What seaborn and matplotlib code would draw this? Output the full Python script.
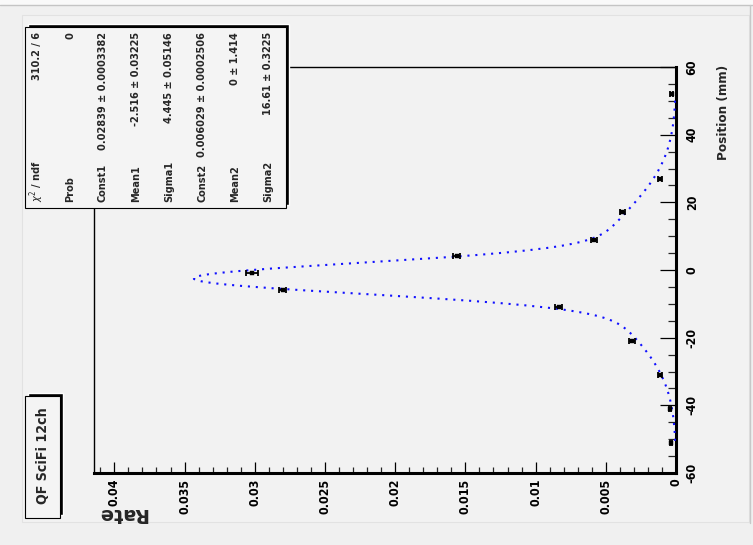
import numpy as np
import pandas as pd
import matplotlib
matplotlib.use("Agg")
import matplotlib.pyplot as plt
import seaborn as sns
from matplotlib.patches import Rectangle
from matplotlib.lines import Line2D
from matplotlib.ticker import MultipleLocator
from matplotlib import font_manager as fm

# ---------------- data ----------------
position = [-51, -41, -31, -21, -11, -6, -1, 4, 9, 17, 27, 52]
rate = [0.00036, 0.00043, 0.00112, 0.00311, 0.00836, 0.0280, 0.0302,
        0.01562, 0.00584, 0.00382, 0.00114, 0.0003]
rate_err = [0.0001, 0.0001, 0.00015, 0.00022, 0.00025, 0.00025, 0.00041,
            0.00024, 0.00024, 0.00018, 0.00012, 0.0001]

# fit parameters shown in the stats box (double gaussian)
const1, mean1, sigma1 = 0.02839, -2.516, 4.445
const2, mean2, sigma2 = 0.006029, 0.0, 16.61
fit_lo, fit_hi = -50.5, 51.0

rate_ticks = [0, 0.005, 0.01, 0.015, 0.02, 0.025, 0.03, 0.035, 0.04]
rate_labels = ["0", "0.005", "0.01", "0.015", "0.02", "0.025", "0.03", "0.035", "0.04"]
pos_ticks = [-60, -40, -20, 0, 20, 40, 60]
pos_labels = ["-60", "-40", "-20", "0", "20", "40", "60"]

title = "QF SciFi 12ch"
xlabel = "Position (mm)"
ylabel = "Rate"
stat_names = [r"$\chi^{2}$ / ndf", "Prob", "Const1", "Mean1", "Sigma1", "Const2", "Mean2", "Sigma2"]
stat_values = ["310.2 / 6", "0", "0.02839 ± 0.0003382", "-2.516 ± 0.03225",
               "4.445 ± 0.05146", "0.006029 ± 0.0002506", "0 ± 1.414", "16.61 ± 0.3225"]

# ---------------- fonts ----------------
sns.set_style("white")
names = {f.name for f in fm.fontManager.ttflist}
cond = any(f.name == "DejaVu Sans" and f.stretch == "condensed" for f in fm.fontManager.ttflist)
if "Liberation Sans Narrow" in names:
    FAM, STRETCH = "Liberation Sans Narrow", "normal"
elif cond:
    FAM, STRETCH = "DejaVu Sans", "condensed"
else:
    FAM, STRETCH = "Liberation Sans", "normal"
plt.rcParams["font.family"] = [FAM, "DejaVu Sans"]
plt.rcParams["font.stretch"] = STRETCH
plt.rcParams["mathtext.fontset"] = "dejavusans"

W, H = 753, 545
fig = plt.figure(figsize=(W / 100, H / 100), dpi=100)
fig.patch.set_facecolor("#f0f0f0")


def fx(x):
    return x / W


def fy(y):
    return 1 - y / H


# canvas decoration (behind the axes)
fig.patches.append(Rectangle((0, fy(5)), 1, 5 / H, transform=fig.transFigure,
                             facecolor="#f9f9f9", edgecolor="none", zorder=-3))
fig.lines.append(Line2D([0, 1], [fy(5), fy(5)], transform=fig.transFigure,
                        color="#c4c4c4", lw=1.0, zorder=-2))
fig.patches.append(Rectangle((fx(22), fy(522)), fx(749) - fx(22), (522 - 15) / H,
                             transform=fig.transFigure, facecolor="#f2f2f2",
                             edgecolor="#e2e2e2", lw=0.8, zorder=-2))
fig.lines.append(Line2D([fx(749.5), fx(749.5)], [fy(5), fy(523)], transform=fig.transFigure,
                        color="#c8c8c8", lw=1.0, zorder=-1))

ax = fig.add_axes([fx(94), fy(473), fx(676) - fx(94), (473 - 67) / H])
ax.set_facecolor("#f2f2f2")

# fit curve
curve_pos = np.linspace(fit_lo, fit_hi, 300)
curve_rate = (const1 * np.exp(-0.5 * ((curve_pos - mean1) / sigma1) ** 2)
              + const2 * np.exp(-0.5 * ((curve_pos - mean2) / sigma2) ** 2))
curve = pd.DataFrame({"rate": curve_rate, "position": curve_pos})
sns.lineplot(data=curve, x="rate", y="position", orient="y", sort=False, estimator=None,
             color="#1010ff", lw=1.5, linestyle=(0, (1.0, 2.8)), ax=ax, zorder=3)

pts = pd.DataFrame({"rate": rate, "position": position, "err": rate_err})
ax.errorbar(pts["rate"], pts["position"], xerr=pts["err"], fmt="none", ecolor="black",
            elinewidth=1.3, capsize=2.2, capthick=1.3, zorder=4)
sns.scatterplot(data=pts, x="rate", y="position", marker="s", s=9, color="black",
                edgecolor="black", linewidth=0.3, ax=ax, zorder=5)

ax.set_xlim(0.04145, 0)
ax.set_ylim(-60, 60)
ax.set_xlabel("")
ax.set_ylabel("")

for s in ["bottom", "right"]:
    ax.spines[s].set_linewidth(2.2)
for s in ["top", "left"]:
    ax.spines[s].set_linewidth(1.0)
for s in ax.spines.values():
    s.set_color("black")
    s.set_visible(True)

ax.set_xticks(rate_ticks, rate_labels)
ax.xaxis.set_minor_locator(MultipleLocator(0.001))
ax.set_yticks(pos_ticks, pos_labels)
ax.yaxis.set_minor_locator(MultipleLocator(5))
ax.yaxis.tick_right()
ax.tick_params(axis="x", which="major", direction="in", length=8, width=0.9, pad=4,
               colors="black", bottom=True, top=False)
ax.tick_params(axis="x", which="minor", direction="in", length=4, width=0.9, bottom=True, top=False)
ax.tick_params(axis="y", which="major", direction="in", length=11.5, width=0.9, pad=7,
               colors="black", right=True, left=False)
ax.tick_params(axis="y", which="minor", direction="in", length=5.5, width=0.9, right=True, left=False)

TICKFS = 13
for lab in ax.get_xticklabels():
    lab.set_rotation(90)
    lab.set_ha("center")
    lab.set_va("top")
    lab.set_fontweight("bold")
    lab.set_fontsize(TICKFS)
for lab in ax.get_yticklabels():
    lab.set_rotation(90)
    lab.set_ha("left")
    lab.set_va("center")
    lab.set_fontweight("bold")
    lab.set_fontsize(TICKFS)

# axis titles
t_pos = fig.text(fx(723), fy(65), xlabel, rotation=90, ha="center", va="top",
                 fontweight="bold", fontsize=14)
t_rate = fig.text(fx(97), fy(513), ylabel, rotation=180, ha="left", va="center",
                  fontweight="bold", fontsize=12, fontstretch="normal",
                  family=["DejaVu Sans"])

# title box
fig.patches.append(Rectangle((fx(28), fy(515)), fx(63) - fx(28), (515 - 393) / H,
                             transform=fig.transFigure, facecolor="black", zorder=6))
fig.patches.append(Rectangle((fx(25), fy(518)), fx(60) - fx(25), (518 - 396) / H,
                             transform=fig.transFigure, facecolor="#f4f4f4",
                             edgecolor="black", lw=0.8, zorder=7))
t_title = fig.text(fx(43), fy(456), title, rotation=90, ha="center", va="center",
                   fontweight="bold", fontsize=14, zorder=8)

# stats box
fig.patches.append(Rectangle((fx(28), fy(205)), fx(289) - fx(28), (205 - 24) / H,
                             transform=fig.transFigure, facecolor="black", zorder=6))
fig.patches.append(Rectangle((fx(25), fy(208)), fx(286) - fx(25), (208 - 27) / H,
                             transform=fig.transFigure, facecolor="#f4f4f4",
                             edgecolor="black", lw=0.8, zorder=7))
stat_texts = []
for i, (nm, val) in enumerate(zip(stat_names, stat_values)):
    xc = 37 + 33 * i
    a = fig.text(fx(xc), fy(202), nm, rotation=90, ha="center", va="bottom",
                 fontweight="bold", fontsize=10, zorder=8)
    b = fig.text(fx(xc), fy(32), val, rotation=90, ha="center", va="top",
                 fontweight="bold", fontsize=10, zorder=8)
    stat_texts.append((a, b))

# ---- scale font sizes to match measured text lengths ----
fig.canvas.draw()
r = fig.canvas.get_renderer()


def length(t):
    bb = t.get_window_extent(r)
    return max(bb.width, bb.height)


ref = [l for l in ax.get_xticklabels() if l.get_text() == "0.035"][0]
k = 35 / length(ref)
for lab in ax.get_xticklabels() + ax.get_yticklabels():
    lab.set_fontsize(TICKFS * k)
for t, target in [(t_pos, 96), (t_title, 97), (t_rate, 50)]:
    t.set_fontsize(t.get_fontsize() * target / length(t))
ks = 118 / length(stat_texts[2][1])
for a, b in stat_texts:
    a.set_fontsize(a.get_fontsize() * ks)
    b.set_fontsize(b.get_fontsize() * ks)

fig.savefig("out.png", dpi=100, facecolor=fig.get_facecolor())
